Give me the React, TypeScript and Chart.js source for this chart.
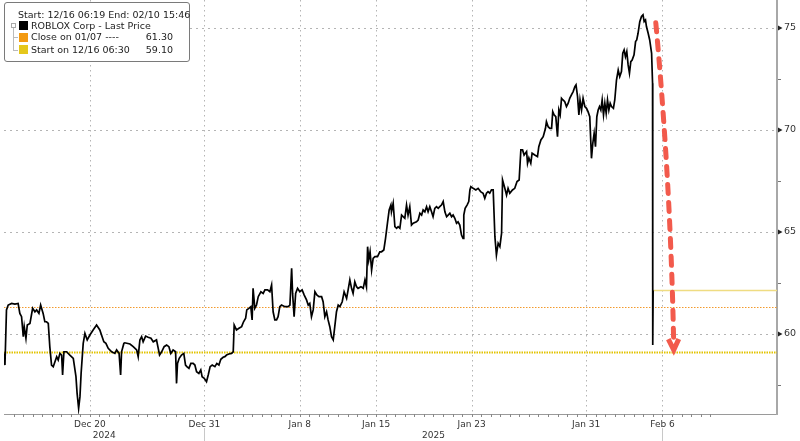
import React, { useEffect, useRef } from "react";
import { Chart, registerables } from "chart.js";

Chart.register(...registerables);

// Trading-day index (Dec 16 open = 0) and last price
const TIME = [
  -0.54, -0.45, -0.37, -0.28, -0.1, 0.07, 0.24, 0.33, 0.42, 0.51, 0.56, 0.65, 0.72, 0.86, 1.0, 1.12, 1.21, 1.33, 1.42, 1.55,
  1.64, 1.73, 1.82, 1.9, 1.99, 2.08, 2.17, 2.26, 2.34, 2.43, 2.52, 2.57, 2.64, 2.78, 2.95, 3.13, 3.27, 3.33, 3.41, 3.48,
  3.54, 3.65, 3.74, 3.86, 4.0, 4.17, 4.35, 4.52, 4.61, 4.73, 4.84, 4.96, 5.14, 5.31, 5.4, 5.53, 5.61, 5.66, 5.78, 5.83,
  6.1, 6.27, 6.45, 6.53, 6.62, 6.71, 6.79, 6.92, 7.05, 7.2, 7.32, 7.49, 7.58, 7.65, 7.76, 7.89, 8.02, 8.14, 8.24, 8.36,
  8.49, 8.54, 8.59, 8.68, 8.8, 8.92, 9.01, 9.08, 9.19, 9.29, 9.41, 9.5, 9.59, 9.71, 9.81, 9.88, 9.99, 10.11, 10.2, 10.3,
  10.41, 10.55, 10.65, 10.76, 10.86, 10.98, 11.07, 11.16, 11.28, 11.42, 11.51, 11.56, 11.68, 11.81, 11.95, 12.05, 12.16, 12.22, 12.33, 12.43,
  12.5, 12.55, 12.64, 12.73, 12.82, 12.96, 13.08, 13.17, 13.31, 13.43, 13.52, 13.6, 13.69, 13.78, 13.86, 13.95, 14.04, 14.22, 14.39, 14.48,
  14.57, 14.62, 14.7, 14.78, 14.88, 15.0, 15.12, 15.23, 15.35, 15.44, 15.52, 15.61, 15.7, 15.79, 15.89, 16.0, 16.14, 16.22, 16.31, 16.4,
  16.48, 16.57, 16.66, 16.75, 16.83, 16.92, 17.01, 17.1, 17.22, 17.32, 17.45, 17.53, 17.62, 17.71, 17.79, 17.88, 17.97, 18.05, 18.2, 18.32,
  18.41, 18.49, 18.55, 18.61, 18.68, 18.76, 18.84, 18.93, 19.07, 19.19, 19.28, 19.4, 19.49, 19.59, 19.68, 19.77, 19.8, 19.89, 19.98, 20.07,
  20.15, 20.24, 20.33, 20.41, 20.5, 20.59, 20.67, 20.76, 20.85, 20.94, 21.11, 21.2, 21.29, 21.38, 21.46, 21.55, 21.64, 21.72, 21.81, 21.9,
  21.98, 22.07, 22.16, 22.25, 22.33, 22.42, 22.51, 22.6, 22.69, 22.77, 22.86, 22.95, 23.03, 23.12, 23.21, 23.29, 23.38, 23.47, 23.55, 23.59,
  23.66, 23.76, 23.85, 23.91, 23.96, 24.08, 24.22, 24.34, 24.47, 24.6, 24.69, 24.78, 24.86, 24.95, 25.04, 25.13, 25.22, 25.3, 25.39, 25.48,
  25.57, 25.62, 25.74, 25.83, 25.91, 26.0, 26.14, 26.26, 26.38, 26.49, 26.58, 26.67, 26.75, 26.88, 26.93, 27.0, 27.1, 27.17, 27.31, 27.45,
  27.52, 27.63, 27.75, 27.8, 27.87, 27.92, 28.01, 28.1, 28.19, 28.25, 28.32, 28.41, 28.5, 28.57, 28.64, 28.71, 28.79, 28.88, 28.97, 29.06,
  29.14, 29.23, 29.32, 29.41, 29.47, 29.55, 29.62, 29.68, 29.76, 29.84, 29.93, 30.02, 30.1, 30.19, 30.24, 30.28, 30.35, 30.42, 30.49, 30.56,
  30.63, 30.7, 30.77, 30.84, 30.91, 30.98, 31.05, 31.12, 31.19, 31.26, 31.33, 31.43, 31.5, 31.59, 31.68, 31.76, 31.85, 31.92, 31.99, 32.06,
  32.13, 32.2, 32.27, 32.34, 32.41, 32.51, 32.59, 32.65, 32.72, 32.81, 32.9, 32.98, 33.04, 33.11, 33.16, 33.25, 33.33, 33.43, 33.48, 33.49,
  33.51,
];

const PRICE = [
  59.13, 58.48, 61.18, 61.42, 61.5, 61.47, 61.5, 61.01, 60.85, 59.87, 60.36, 59.79, 60.44, 60.52, 61.26, 61.09, 61.18, 61.01, 61.42, 61.01,
  60.6, 60.6, 60.52, 59.38, 58.48, 58.4, 58.64, 58.89, 58.73, 59.05, 58.97, 57.99, 59.13, 59.13, 58.97, 58.81, 57.91, 57.09, 56.36, 56.93,
  58.07, 59.54, 60.03, 59.71, 59.95, 60.2, 60.44, 60.2, 59.95, 59.62, 59.54, 59.3, 59.13, 59.05, 59.22, 59.05, 57.99, 59.13, 59.54, 59.57,
  59.51, 59.38, 59.22, 58.89, 59.71, 59.87, 59.62, 59.9, 59.84, 59.79, 59.62, 59.71, 59.3, 58.97, 59.13, 59.38, 59.46, 59.38, 59.05, 59.22,
  59.13, 57.58, 58.56, 58.81, 58.97, 59.05, 58.48, 58.4, 58.32, 58.56, 58.56, 58.48, 58.15, 58.07, 58.24, 57.91, 57.83, 57.66, 57.99, 58.4,
  58.48, 58.4, 58.56, 58.48, 58.76, 58.86, 58.89, 58.97, 59.02, 59.05, 59.13, 60.44, 60.2, 60.28, 60.36, 60.6, 60.77, 61.18, 61.26, 61.34,
  60.69, 62.24, 61.26, 61.42, 61.83, 62.07, 61.99, 62.16, 62.16, 62.07, 62.4, 61.09, 60.69, 60.69, 60.85, 61.34, 61.42, 61.34, 61.34, 61.42,
  63.22, 61.99, 60.85, 61.99, 62.24, 62.07, 62.16, 61.91, 61.67, 61.42, 61.5, 60.85, 61.18, 62.07, 61.91, 61.83, 61.83, 61.58, 60.85, 61.09,
  60.69, 60.36, 59.87, 59.71, 60.36, 61.09, 61.42, 61.34, 61.58, 62.07, 61.75, 62.16, 62.65, 62.24, 61.99, 62.56, 62.32, 62.24, 62.32, 62.24,
  62.65, 62.32, 64.28, 63.63, 64.03, 63.14, 63.71, 63.79, 63.79, 64.03, 64.03, 64.12, 64.69, 65.43, 66.08, 66.32, 65.99, 66.41, 65.26, 65.18,
  65.26, 65.18, 65.83, 65.75, 65.67, 66.32, 65.83, 66.24, 65.34, 65.43, 65.5, 65.59, 65.92, 65.83, 66.08, 65.99, 66.24, 65.99, 66.24, 65.99,
  65.75, 66.16, 66.24, 66.16, 66.24, 66.32, 66.49, 65.99, 65.75, 65.83, 65.92, 65.75, 65.83, 65.67, 65.43, 65.5, 65.34, 64.85, 64.69, 65.83,
  66.16, 66.32, 66.49, 67.06, 67.22, 67.14, 67.06, 67.14, 66.98, 66.9, 66.65, 66.9, 66.98, 66.9, 67.06, 67.06, 64.77, 63.87, 64.45, 64.28,
  64.94, 67.55, 67.14, 66.81, 67.14, 66.9, 67.06, 67.14, 67.47, 67.55, 69.02, 69.02, 68.77, 68.94, 68.37, 68.63, 68.37, 68.86, 68.77, 68.69,
  69.18, 69.51, 69.67, 69.84, 70.08, 70.41, 70.16, 70.08, 70.08, 70.9, 70.74, 70.65, 69.67, 70.98, 70.74, 71.55, 71.47, 71.39, 71.15, 71.31,
  71.55, 71.72, 71.88, 72.12, 72.21, 71.64, 70.74, 71.47, 70.98, 71.55, 71.15, 71.06, 70.9, 70.65, 69.51, 68.61, 69.35, 69.84, 69.18, 70.65,
  70.98, 71.15, 70.98, 71.47, 70.74, 71.31, 70.82, 71.47, 70.98, 71.31, 71.15, 71.06, 71.47, 72.45, 72.94, 72.61, 72.86, 73.76, 73.92, 73.59,
  73.84, 73.19, 72.78, 73.35, 73.43, 73.68, 74.33, 74.41, 74.74, 75.31, 75.56, 75.64, 75.31, 75.39, 75.07, 74.74, 74.41, 73.76, 72.29, 59.46,
  62.13,
];

const X_TICK_POS = [4, 10, 15, 19, 24, 30, 34];
const X_TICK_LABELS = ["Dec 20", "Dec 31", "Jan 8", "Jan 15", "Jan 23", "Jan 31", "Feb 6"];
const YEAR_LABELS = ["2024", "2025"];
const YEAR_BOUNDS = [-0.5, 10, 34];
const Y_TICKS = [60, 65, 70, 75];
const Y_MINOR = [57.5, 62.5, 67.5, 72.5];
const X_MIN = -0.5;
const X_MAX = 40;
const Y_MIN = 56.08;
const Y_MAX = 76.37;
const MINOR_X_END = 36.5;

const CLOSE_0107 = 61.3;
const START_1216 = 59.1;
const LAST_PRICE = 62.13;
const LAST_FROM = 33.51;

// arrow annotation in data units: start, control, end
const ARROW_T = [33.65, 34.43, 34.59];
const ARROW_V = [75.25, 67.25, 59.22];

const FONT = '"DejaVu Sans", "Liberation Sans", sans-serif';

const decor = {
  id: "decor",
  beforeDatasetsDraw(chart: any) {
    const { ctx, chartArea, scales } = chart;
    const { left, right, top, bottom } = chartArea;
    const x = scales.x;
    const y = scales.y;
    ctx.save();
    ctx.strokeStyle = "#b4b4b4";
    ctx.lineWidth = 1;
    ctx.setLineDash([2, 4]);
    Y_TICKS.forEach((v) => {
      const py = Math.round(y.getPixelForValue(v)) + 0.5;
      ctx.beginPath();
      ctx.moveTo(left, py);
      ctx.lineTo(right, py);
      ctx.stroke();
    });
    ctx.setLineDash([1.5, 3.5]);
    X_TICK_POS.forEach((v) => {
      const px = Math.round(x.getPixelForValue(v)) + 0.5;
      ctx.beginPath();
      ctx.moveTo(px, top);
      ctx.lineTo(px, bottom);
      ctx.stroke();
    });
    ctx.restore();
  },
  afterDraw(chart: any) {
    const { ctx, chartArea, scales } = chart;
    const { right, bottom } = chartArea;
    const x = scales.x;
    const y = scales.y;
    ctx.save();
    // y major markers (triangles)
    ctx.fillStyle = "#222";
    Y_TICKS.forEach((v) => {
      const py = y.getPixelForValue(v);
      ctx.beginPath();
      ctx.moveTo(right + 1, py - 2.5);
      ctx.lineTo(right + 1, py + 2.5);
      ctx.lineTo(right + 5.5, py);
      ctx.closePath();
      ctx.fill();
    });
    // y minor ticks
    ctx.strokeStyle = "#777";
    ctx.lineWidth = 1;
    Y_MINOR.forEach((v) => {
      const py = Math.round(y.getPixelForValue(v)) + 0.5;
      ctx.beginPath();
      ctx.moveTo(right + 1, py);
      ctx.lineTo(right + 4, py);
      ctx.stroke();
    });
    // x minor ticks every half day
    ctx.strokeStyle = "#888";
    for (let t = 0; t <= MINOR_X_END; t += 0.5) {
      const px = Math.round(x.getPixelForValue(t)) + 0.5;
      ctx.beginPath();
      ctx.moveTo(px, bottom);
      ctx.lineTo(px, bottom + 3);
      ctx.stroke();
    }
    // year separators and labels
    ctx.strokeStyle = "#c8c8c8";
    [YEAR_BOUNDS[1], YEAR_BOUNDS[2]].forEach((v) => {
      const px = Math.round(x.getPixelForValue(v)) + 0.5;
      ctx.beginPath();
      ctx.moveTo(px, bottom + 14);
      ctx.lineTo(px, chart.height);
      ctx.stroke();
    });
    ctx.fillStyle = "#333";
    ctx.font = `9px ${FONT}`;
    ctx.textAlign = "center";
    ctx.textBaseline = "middle";
    YEAR_LABELS.forEach((lab, i) => {
      const px = (x.getPixelForValue(YEAR_BOUNDS[i]) + x.getPixelForValue(YEAR_BOUNDS[i + 1])) / 2;
      ctx.fillText(lab, px, bottom + 22);
    });
    // red dashed arrow
    const p0 = [x.getPixelForValue(ARROW_T[0]), y.getPixelForValue(ARROW_V[0])];
    const c = [x.getPixelForValue(ARROW_T[1]), y.getPixelForValue(ARROW_V[1])];
    const p2 = [x.getPixelForValue(ARROW_T[2]), y.getPixelForValue(ARROW_V[2])];
    ctx.strokeStyle = "#F25A4C";
    ctx.lineWidth = 5;
    ctx.lineCap = "round";
    ctx.setLineDash([9, 9]);
    ctx.beginPath();
    ctx.moveTo(p0[0], p0[1]);
    ctx.quadraticCurveTo(c[0], c[1], p2[0], p2[1] - 4);
    ctx.stroke();
    ctx.setLineDash([]);
    const ang = Math.atan2(p2[1] - c[1], p2[0] - c[0]);
    const len = 12;
    const spread = 0.45;
    ctx.lineJoin = "miter";
    ctx.lineCap = "butt";
    ctx.beginPath();
    ctx.moveTo(p2[0] - len * Math.cos(ang - spread), p2[1] - len * Math.sin(ang - spread));
    ctx.lineTo(p2[0], p2[1]);
    ctx.lineTo(p2[0] - len * Math.cos(ang + spread), p2[1] - len * Math.sin(ang + spread));
    ctx.stroke();
    ctx.restore();
  },
};

export default function App() {
  const ref = useRef<HTMLCanvasElement | null>(null);
  useEffect(() => {
    if (!ref.current) return;
    const chart = new Chart(ref.current, {
      type: "line",
      data: {
        datasets: [
          {
            label: "ROBLOX Corp - Last Price",
            data: TIME.map((t, i) => ({ x: t, y: PRICE[i] })),
            borderColor: "#000",
            borderWidth: 1.7,
            pointRadius: 0,
            tension: 0,
            order: 0,
          },
          {
            label: "Last",
            data: [
              { x: LAST_FROM, y: LAST_PRICE },
              { x: X_MAX, y: LAST_PRICE },
            ],
            borderColor: "#EFDC82",
            borderWidth: 1.5,
            pointRadius: 0,
            order: 1,
          },
          {
            label: "Close on 01/07",
            data: [
              { x: X_MIN, y: CLOSE_0107 },
              { x: X_MAX, y: CLOSE_0107 },
            ],
            borderColor: "#F39A2C",
            borderWidth: 1.2,
            borderDash: [1.5, 1.5],
            pointRadius: 0,
            order: 2,
          },
          {
            label: "Start on 12/16 06:30",
            data: [
              { x: X_MIN, y: START_1216 },
              { x: X_MAX, y: START_1216 },
            ],
            borderColor: "#E3C400",
            borderWidth: 2,
            borderDash: [1.5, 1],
            pointRadius: 0,
            order: 3,
          },
        ],
      },
      options: {
        animation: false,
        responsive: false,
        devicePixelRatio: 1,
        parsing: false as any,
        layout: { padding: { left: 4, top: 0, right: 0, bottom: 0 } },
        plugins: { legend: { display: false }, tooltip: { enabled: false } },
        scales: {
          x: {
            type: "linear",
            min: X_MIN,
            max: X_MAX,
            afterBuildTicks: (s: any) => {
              s.ticks = X_TICK_POS.map((v) => ({ value: v }));
            },
            afterFit: (s: any) => {
              s.height = 27;
              s.paddingLeft = 0;
              s.paddingRight = 0;
            },
            grid: { display: false, drawTicks: false },
            border: { display: true, color: "#9a9a9a", width: 1 },
            ticks: {
              autoSkip: false,
              maxRotation: 0,
              padding: 5,
              color: "#333",
              font: { family: FONT, size: 9 },
              callback: (_v: any, i: number) => X_TICK_LABELS[i],
            },
          },
          y: {
            position: "right",
            min: Y_MIN,
            max: Y_MAX,
            afterBuildTicks: (s: any) => {
              s.ticks = Y_TICKS.map((v) => ({ value: v }));
            },
            afterFit: (s: any) => {
              s.width = 23;
              s.paddingTop = 0;
              s.paddingBottom = 0;
            },
            grid: { display: false, drawTicks: false },
            border: { display: true, color: "#a8a8a8", width: 2 },
            ticks: {
              padding: 7,
              color: "#333",
              font: { family: FONT, size: 9.5 },
              callback: (v: any) => String(v),
            },
          },
        },
      },
      plugins: [decor],
    } as any);
    return () => chart.destroy();
  }, []);

  const txt = (left: number, cy: number, s: string, extra: any = {}) => (
    <div
      style={{
        position: "absolute",
        left,
        top: cy - 6,
        height: 12,
        lineHeight: "12px",
        whiteSpace: "nowrap",
        ...extra,
      }}
    >
      {s}
    </div>
  );
  const sq = (top: number, color: string) => (
    <div style={{ position: "absolute", left: 19, top, width: 9, height: 9, background: color }} />
  );

  return (
    <div
      style={{
        position: "fixed",
        left: 0,
        top: 0,
        width: 800,
        height: 441,
        background: "#fff",
        fontFamily: FONT,
        fontSize: "9.5px",
        color: "#222",
      }}
    >
      <canvas ref={ref} width={800} height={441} style={{ position: "absolute", left: 0, top: 0 }} />
      <div
        style={{
          position: "absolute",
          left: 4,
          top: 2,
          width: 186,
          height: 60,
          border: "1px solid #7a7a7a",
          borderRadius: 3,
          background: "#fff",
          boxSizing: "border-box",
        }}
      />
      {txt(18, 14.5, "Start: 12/16 06:19 End: 02/10 15:46")}
      <div
        style={{ position: "absolute", left: 11, top: 22.5, width: 3, height: 3, border: "1px solid #aaa" }}
      />
      <div style={{ position: "absolute", left: 12.5, top: 28, width: 1, height: 22, background: "#bbb" }} />
      <div style={{ position: "absolute", left: 13, top: 37, width: 5, height: 1, background: "#bbb" }} />
      <div style={{ position: "absolute", left: 13, top: 50, width: 5, height: 1, background: "#bbb" }} />
      {sq(21, "#000")}
      {txt(31, 25.7, "ROBLOX Corp - Last Price")}
      {sq(32.5, "#F39A12")}
      {txt(31, 37.3, "Close on 01/07 ----")}
      {txt(130, 37.3, "61.30", { width: 43, textAlign: "right" })}
      {sq(45, "#E5C71C")}
      {txt(31, 50, "Start on 12/16 06:30")}
      {txt(130, 50, "59.10", { width: 43, textAlign: "right" })}
    </div>
  );
}
